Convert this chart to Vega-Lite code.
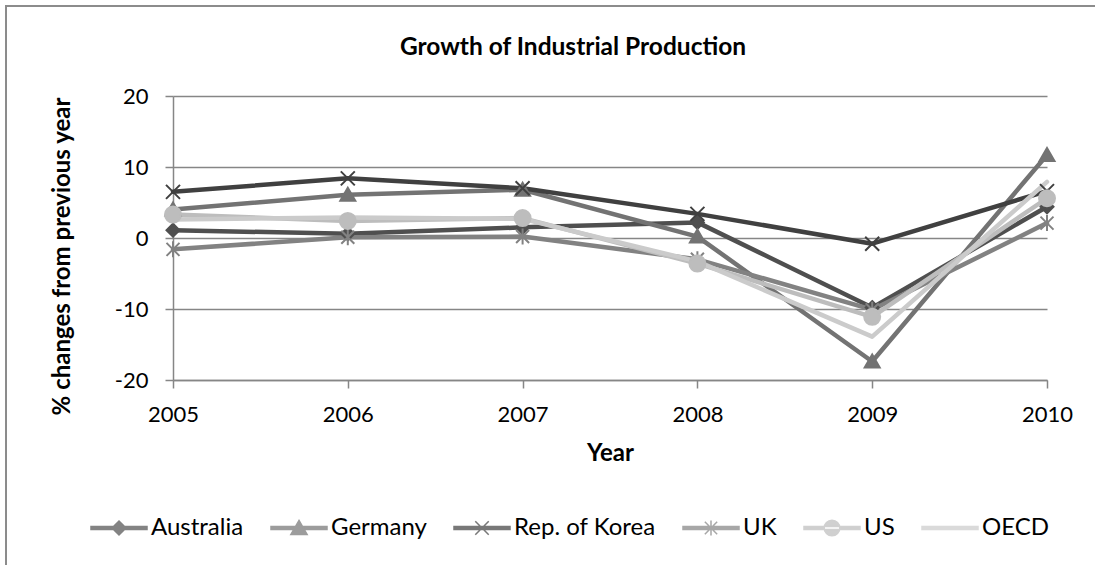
{
  "$schema": "https://vega.github.io/schema/vega-lite/v6.json",
  "width": 874,
  "height": 284,
  "autosize": {"type": "none"},
  "padding": {"left": 173, "top": 96, "right": 48, "bottom": 185},
  "background": "white",
  "title": {
    "text": "Growth of Industrial Production",
    "font": "Lato",
    "fontSize": 24.5,
    "fontWeight": "bold",
    "color": "black",
    "anchor": "middle",
    "baseline": "alphabetic",
    "dx": -37,
    "offset": -74
  },
  "config": {
    "font": "Lato",
    "view": {"stroke": null},
    "axis": {
      "labelFont": "Lato",
      "labelFontSize": 22,
      "labelColor": "black",
      "titleFont": "Lato",
      "titleFontSize": 24,
      "titleFontWeight": "bold",
      "titleColor": "black",
      "domainColor": "#868686",
      "domainWidth": 1.5,
      "tickColor": "#868686",
      "tickWidth": 1.5,
      "tickSize": 8,
      "gridColor": "#868686",
      "gridWidth": 1.5
    }
  },
  "data": {
    "values": [
      {"series": "Australia", "year": 2005, "value": 1.1},
      {"series": "Australia", "year": 2006, "value": 0.6},
      {"series": "Australia", "year": 2007, "value": 1.5},
      {"series": "Australia", "year": 2008, "value": 2.2},
      {"series": "Australia", "year": 2009, "value": -9.8},
      {"series": "Australia", "year": 2010, "value": 4.4},
      {"series": "Germany", "year": 2005, "value": 4.0},
      {"series": "Germany", "year": 2006, "value": 6.1},
      {"series": "Germany", "year": 2007, "value": 6.8},
      {"series": "Germany", "year": 2008, "value": 0.2},
      {"series": "Germany", "year": 2009, "value": -17.4},
      {"series": "Germany", "year": 2010, "value": 11.7},
      {"series": "Rep. of Korea", "year": 2005, "value": 6.5},
      {"series": "Rep. of Korea", "year": 2006, "value": 8.4},
      {"series": "Rep. of Korea", "year": 2007, "value": 7.0},
      {"series": "Rep. of Korea", "year": 2008, "value": 3.4},
      {"series": "Rep. of Korea", "year": 2009, "value": -0.8},
      {"series": "Rep. of Korea", "year": 2010, "value": 6.6},
      {"series": "UK", "year": 2005, "value": -1.6},
      {"series": "UK", "year": 2006, "value": 0.1},
      {"series": "UK", "year": 2007, "value": 0.2},
      {"series": "UK", "year": 2008, "value": -3.0},
      {"series": "UK", "year": 2009, "value": -10.1},
      {"series": "UK", "year": 2010, "value": 2.1},
      {"series": "US", "year": 2005, "value": 3.3},
      {"series": "US", "year": 2006, "value": 2.4},
      {"series": "US", "year": 2007, "value": 2.8},
      {"series": "US", "year": 2008, "value": -3.6},
      {"series": "US", "year": 2009, "value": -11.1},
      {"series": "US", "year": 2010, "value": 5.6},
      {"series": "OECD", "year": 2005, "value": 2.6},
      {"series": "OECD", "year": 2006, "value": 2.9},
      {"series": "OECD", "year": 2007, "value": 2.7},
      {"series": "OECD", "year": 2008, "value": -3.3},
      {"series": "OECD", "year": 2009, "value": -13.9},
      {"series": "OECD", "year": 2010, "value": 7.9}
    ]
  },
  "encoding": {
    "x": {
      "field": "year",
      "type": "quantitative",
      "scale": {"domain": [2005, 2010], "nice": false, "zero": false},
      "axis": {
        "title": "Year",
        "values": [2005, 2006, 2007, 2008, 2009, 2010],
        "format": "d",
        "grid": false,
        "labelPadding": 16,
        "titlePadding": 16,
        "labelFlush": false
      }
    },
    "y": {
      "field": "value",
      "type": "quantitative",
      "scale": {"domain": [-20, 20], "nice": false},
      "axis": {
        "title": "% changes from previous year",
        "values": [-20, -10, 0, 10, 20],
        "labelExpr": "datum.value < 0 ? '-' + abs(datum.value) : '' + datum.value",
        "grid": true,
        "labelPadding": 17,
        "titlePadding": 40,
        "titleY": 160
      }
    }
  },
  "layer": [
    {
      "mark": {"type": "rule", "color": "#8c8c8c", "strokeWidth": 1.5, "clip": false},
      "encoding": {
        "x": {"datum": 2004.045, "type": "quantitative"},
        "y": {"datum": 32.7, "type": "quantitative"},
        "y2": {"datum": -46}
      }
    },
    {
      "mark": {"type": "rule", "color": "#8c8c8c", "strokeWidth": 1.5, "clip": false},
      "encoding": {
        "x": {"datum": 2004.045, "type": "quantitative"},
        "x2": {"datum": 2010.3},
        "y": {"datum": 32.7, "type": "quantitative"}
      }
    },
    {
      "mark": {"type": "line", "strokeWidth": 4.5, "strokeJoin": "round", "strokeCap": "round"},
      "encoding": {
        "color": {
          "field": "series",
          "type": "nominal",
          "scale": {
            "domain": ["Australia", "Germany", "Rep. of Korea", "UK", "US", "OECD"],
            "range": ["#4f4f4f", "#737373", "#404040", "#828282", "#bdbdbd", "#cbcbcb"]
          },
          "legend": {
            "orient": "none",
            "direction": "horizontal",
            "legendX": -83,
            "legendY": 403,
            "title": null,
            "padding": 0,
            "labelFont": "Lato",
            "labelFontSize": 24,
            "labelColor": "black",
            "labelOffset": 3,
            "columnPadding": 24,
            "symbolSize": 3136,
            "symbolStrokeWidth": 1.5
          }
        }
      }
    },
    {
      "transform": [{"filter": "datum.series === 'Australia'"}],
      "mark": {"type": "point", "filled": true, "opacity": 1, "size": 100, "strokeWidth": 2, "fill": "#4f4f4f", "stroke": "#4f4f4f", "shape": "M0,-1.3L1.3,0L0,1.3L-1.3,0Z"}
    },
    {
      "transform": [{"filter": "datum.series === 'Germany'"}],
      "mark": {"type": "point", "filled": true, "opacity": 1, "size": 100, "strokeWidth": 2, "fill": "#737373", "stroke": "#737373", "shape": "M0,-1.4L1.5,1.2L-1.5,1.2Z"}
    },
    {
      "transform": [{"filter": "datum.series === 'Rep. of Korea'"}],
      "mark": {"type": "point", "filled": true, "opacity": 1, "size": 100, "strokeWidth": 2, "fill": "#404040", "stroke": "#404040", "shape": "M-1.4,-1.4L1.4,1.4M-1.4,1.4L1.4,-1.4"}
    },
    {
      "transform": [{"filter": "datum.series === 'UK'"}],
      "mark": {"type": "point", "filled": true, "opacity": 1, "size": 100, "strokeWidth": 2, "fill": "#828282", "stroke": "#828282", "shape": "M-1.3,-1.3L1.3,1.3M-1.3,1.3L1.3,-1.3M0,-1.6L0,1.6"}
    },
    {
      "transform": [{"filter": "datum.series === 'US'"}],
      "mark": {"type": "point", "filled": true, "opacity": 1, "size": 100, "strokeWidth": 2, "fill": "#bdbdbd", "stroke": "#bdbdbd", "shape": "M-1.6,0A1.6,1.6,0,1,0,1.6,0A1.6,1.6,0,1,0,-1.6,0Z"}
    },
    {
      "mark": {"type": "point", "filled": true, "size": 0, "strokeWidth": 1.5},
      "encoding": {
        "color": {"field": "series", "type": "nominal"},
        "stroke": {
          "field": "series",
          "type": "nominal",
          "scale": {
            "domain": ["Australia", "Germany", "Rep. of Korea", "UK", "US", "OECD"],
            "range": ["#4f4f4f", "#737373", "#404040", "#828282", "#bdbdbd", "#cbcbcb"]
          },
          "legend": null
        },
        "shape": {
          "field": "series",
          "type": "nominal",
          "scale": {
            "domain": ["Australia", "Germany", "Rep. of Korea", "UK", "US", "OECD"],
            "range": [
              "M-1,-0.055L1,-0.055L1,0.055L-1,0.055Z M0,-0.25L0.25,0L0,0.25L-0.25,0Z",
              "M-1,-0.055L1,-0.055L1,0.055L-1,0.055Z M0,-0.27L0.29,0.23L-0.29,0.23Z",
              "M-1,-0.055L1,-0.055L1,0.055L-1,0.055Z M-0.24,-0.24L0.24,0.24M-0.24,0.24L0.24,-0.24",
              "M-1,-0.055L1,-0.055L1,0.055L-1,0.055Z M-0.22,-0.22L0.22,0.22M-0.22,0.22L0.22,-0.22M0,-0.27L0,0.27",
              "M-1,-0.055L1,-0.055L1,0.055L-1,0.055Z M-0.28,0A0.28,0.28,0,1,0,0.28,0A0.28,0.28,0,1,0,-0.28,0Z",
              "M-1,-0.055L1,-0.055L1,0.055L-1,0.055Z"
            ]
          },
          "legend": null
        }
      }
    }
  ]
}
